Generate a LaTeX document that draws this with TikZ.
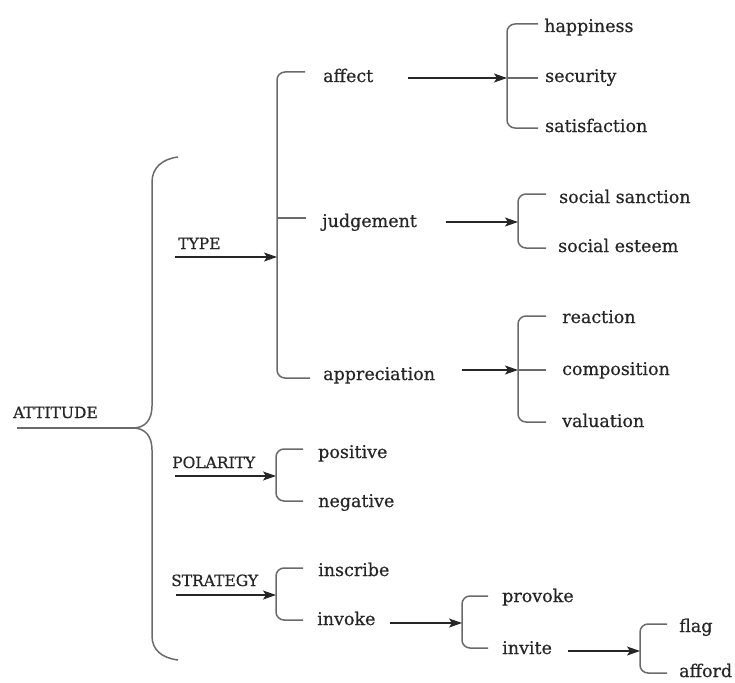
\documentclass[tikz,border=0pt]{standalone}
\usepackage{fontspec}
\setmainfont{DejaVu Serif}[FakeBold=0.6]
\usetikzlibrary{arrows.meta,calc}
\definecolor{ink}{HTML}{262626}
\definecolor{brk}{HTML}{6A6A6A}
\begin{document}
\begin{tikzpicture}[x=1pt,y=-1pt,
  lbl/.style={anchor=base west,inner sep=0pt,text=ink,font=\fontsize{17.5}{20}\selectfont},
  capslbl/.style={anchor=base west,inner sep=0pt,text=ink,font=\fontsize{15.5}{18}\selectfont},
  brace/.style={draw=brk,line width=1.5pt,rounded corners=8pt},
  mainbrace/.style={draw=brk,line width=1.5pt},
  arr/.style={draw=ink,line width=1.2pt,-{Stealth[length=13pt,width=9pt,inset=3pt]}}]
\useasboundingbox (0,0) rectangle (735,682);

% main brace and ATTITUDE
\node[capslbl] (attitude) at (13,418) {ATTITUDE};
\coordinate (tip) at (133,428);
\coordinate (attstart) at (17,428);
\draw[mainbrace] (attstart) -- (tip);
\draw[mainbrace] (178,157) .. controls (162,159) and (152,168) .. (152,182) -- (152,406)
  .. controls (152,420) and (145,428) .. (tip)
  .. controls (145,428) and (152,436) .. (152,450) -- (152,636)
  .. controls (152,650) and (162,658) .. (178,660);

% headings
\node[capslbl] (type) at (178,249) {TYPE};
\node[capslbl] (polarity) at (172,468) {POLARITY};
\node[capslbl] (strategy) at (171,586) {STRATEGY};
\coordinate (typeS) at (175,257);
\coordinate (polS) at (175,476);
\coordinate (strS) at (176,595);

% TYPE bracket
\coordinate (b1) at (277,257);
\draw[brace] (305,72) -- (277,72) -- (277,378) -- (310,378);
\draw[brace] (277,218) -- (306,218);
\draw[arr] (typeS) -- (b1);
\node[lbl] (affect) at (323,82) {affect};
\node[lbl] (judgement) at (322,227) {judgement};
\node[lbl] (appreciation) at (323,380) {appreciation};

% affect sub
\coordinate (b2) at (507,78);
\coordinate (affS) at (408,78);
\draw[brace] (538,24) -- (507,24) -- (507,128) -- (538,128);
\draw[brace] (507,78) -- (538,78);
\draw[arr] (affS) -- (b2);
\node[lbl] (happiness) at (544,32) {happiness};
\node[lbl] (security) at (545,82) {security};
\node[lbl] (satisfaction) at (545,132) {satisfaction};

% judgement sub
\coordinate (b3) at (518,222);
\coordinate (judS) at (446,222);
\draw[brace] (546,194) -- (518,194) -- (518,248) -- (546,248);
\draw[arr] (judS) -- (b3);
\node[lbl] (sanction) at (559,203) {social sanction};
\node[lbl] (esteem) at (558,252) {social esteem};

% appreciation sub
\coordinate (b4) at (518,370);
\coordinate (appS) at (462,370);
\draw[brace] (546,316) -- (518,316) -- (518,422) -- (546,422);
\draw[brace] (518,370) -- (546,370);
\draw[arr] (appS) -- (b4);
\node[lbl] (reaction) at (562,323) {reaction};
\node[lbl] (composition) at (562,375) {composition};
\node[lbl] (valuation) at (562,427) {valuation};

% polarity
\coordinate (b5) at (276,476);
\draw[brace] (303,449) -- (276,449) -- (276,501) -- (303,501);
\draw[arr] (polS) -- (b5);
\node[lbl] (positive) at (318,458) {positive};
\node[lbl] (negative) at (318,507) {negative};

% strategy
\coordinate (b6) at (276,595);
\draw[brace] (303,568) -- (276,568) -- (276,620) -- (303,620);
\draw[arr] (strS) -- (b6);
\node[lbl] (inscribe) at (318,576) {inscribe};
\node[lbl] (invoke) at (317,625) {invoke};

% invoke sub
\coordinate (b7) at (462,623);
\coordinate (invS) at (390,623);
\draw[brace] (488,596) -- (462,596) -- (462,648) -- (488,648);
\draw[arr] (invS) -- (b7);
\node[lbl] (provoke) at (502,602) {provoke};
\node[lbl] (invite) at (502,654) {invite};

% invite sub
\coordinate (b8) at (640,651);
\coordinate (itS) at (568,651);
\draw[brace] (667,624) -- (640,624) -- (640,673) -- (667,673);
\draw[arr] (itS) -- (b8);
\node[lbl] (flag) at (679,632) {flag};
\node[lbl] (afford) at (679,677) {afford};
\end{tikzpicture}
\end{document}
